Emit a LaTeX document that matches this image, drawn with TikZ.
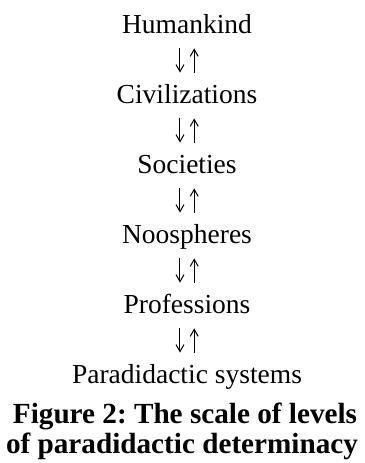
\documentclass[tikz,border=0pt]{standalone}
\usepackage{fontspec}
\setmainfont{Liberation Serif}
\usetikzlibrary{arrows.meta}
\frenchspacing

\tikzset{
    level/.style={inner sep=0pt, anchor=base, text height=9.5pt, text depth=3pt,
        font=\fontsize{13.75}{16}\selectfont},
    captext/.style={inner sep=0pt, anchor=base,
        font=\fontsize{14.6}{17}\selectfont\bfseries},
    link/.style={line width=0.5pt, -{Straight Barb[length=3.5pt,width=4pt]}}
}

\begin{document}
\begin{tikzpicture}[x=0.5pt, y=-0.5pt]
                        \useasboundingbox (0,0) rectangle (365,463);

                        \foreach \txt [count=\i] in {Humankind, Civilizations, Societies,
                            Noospheres, Professions, Paradidactic systems}{
                            \pgfmathtruncatemacro{\y}{33+70*(\i-1)}
                            \node[level] (l\i) at (187, \y) {\txt};
                        }

                        \node[captext] (fig1) at (185, 423) {Figure 2: The scale of levels};
                        \node[captext] (fig2) at (182, 453) {of paradidactic determinacy};

                        % down and up between neighbouring levels
                        \foreach \u/\v in {%
                            1/2,
                            2/3,
                            3/4,
                            4/5,
                            5/6%
                            }{
                            \draw[link, shorten <=4.5pt, shorten >=5.5pt]
                                ([xshift=-3.5pt]l\u.south) -- ([xshift=-3.5pt]l\v.north);
                            \draw[link, shorten <=5.5pt, shorten >=4.5pt]
                                ([xshift=3.6pt]l\v.north) -- ([xshift=3.6pt]l\u.south);
                        }

                    \end{tikzpicture}
\end{document}
